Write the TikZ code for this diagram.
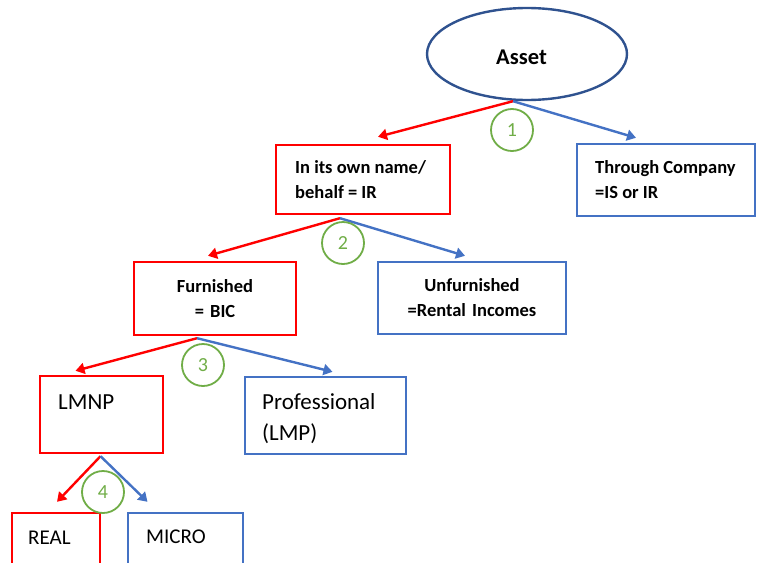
\documentclass[tikz,border=0pt]{standalone}
\usepackage{fontspec}
\setmainfont{Carlito}
\usetikzlibrary{arrows.meta,calc,shapes.geometric}
\definecolor{offblue}{RGB}{68,114,196}
\definecolor{darkblue}{RGB}{47,82,143}
\definecolor{offgreen}{RGB}{112,173,71}
\definecolor{pured}{RGB}{255,0,0}
\begin{document}
\begin{tikzpicture}[x=1pt,y=-1pt,
  box/.style={rectangle, line width=2.4pt, inner ysep=0pt, inner xsep=18pt},
  redbox/.style={box, draw=pured},
  bluebox/.style={box, draw=offblue},
  boldtxt/.style={font=\fontsize{18.5}{25}\selectfont\bfseries},
  boldleft/.style={boldtxt, inner sep=0pt, align=left},
  bigtxt/.style={font=\fontsize{23}{31}\selectfont, inner sep=0pt, align=left},
  midtxt/.style={font=\fontsize{21}{22}\selectfont, inner sep=0pt},
  conn/.style={line width=2.4pt, -{Triangle[length=9pt,width=11pt]}},
  redarrow/.style={conn, draw=pured, fill=pured},
  bluearrow/.style={conn, draw=offblue, fill=offblue},
  stepmark/.style={circle, draw=offgreen, line width=1.8pt, minimum size=42pt, inner sep=0pt, text=offgreen, font=\fontsize{20}{22}\selectfont}
]
\useasboundingbox (0,0) rectangle (759,562);
\clip (0,0) rectangle (759,562);

% top ellipse
\node[ellipse, draw=darkblue, line width=2.4pt, minimum width=200pt, minimum height=92pt, inner sep=0pt] (asset) at (527,54) {};
\node[font=\fontsize{22.5}{24}\selectfont\bfseries, inner sep=0pt, anchor=base] (assettxt) at (521.5,64) {Asset};

% boxes
\node[redbox, minimum width=174pt, minimum height=69pt] (own) at (363,179.5) {};
\node[boldleft, anchor=base west] (owntxt) at (295,198) {In its own name/\\behalf = IR};
\node[bluebox, minimum width=178pt, minimum height=72pt] (company) at (666,180) {};
\node[boldleft, anchor=base west] (companytxt) at (595,198) {Through Company\\=IS or IR};
\node[redbox, boldtxt, minimum width=162pt, minimum height=73pt, text width=126pt, align=center] (furn) at (215,298.5)
  {Furnished\\= BIC};
\node[bluebox, boldtxt, minimum width=188pt, minimum height=72pt, text width=152pt, align=center] (unfurn) at (472,298)
  {Unfurnished\\=Rental Incomes};
\node[redbox, minimum width=123pt, minimum height=77pt] (lmnp) at (101.5,414.5) {};
\node[bigtxt, anchor=base west] (lmnptxt) at (58,409.5) {LMNP};
\node[bluebox, minimum width=161pt, minimum height=77pt] (prof) at (325.5,415.5) {};
\node[bigtxt, anchor=base west] (proftxt) at (262,440.5) {Professional\\(LMP)};
\node[redbox, minimum width=88pt, minimum height=77pt] (real) at (56,551.5) {};
\node[midtxt, anchor=base west] (realtxt) at (28,544) {REAL};
\node[bluebox, minimum width=115pt, minimum height=77pt] (micro) at (185.5,551.5) {};
\node[midtxt, anchor=base west] (microtxt) at (146,543) {MICRO};

% connectors
\draw[redarrow]  ([xshift=-14pt]asset.south) -- ([xshift=15pt,yshift=7pt]own.north);
\draw[bluearrow] ([xshift=-14pt]asset.south) -- ([xshift=-30pt,yshift=5pt]company.north);
\draw[redarrow]  ([xshift=-23pt,yshift=-3pt]own.south) -- ([xshift=-7pt,yshift=5pt]furn.north);
\draw[bluearrow] ([xshift=-23pt,yshift=-3pt]own.south) -- ([xshift=-7pt,yshift=5pt]unfurn.north);
\draw[redarrow]  ([xshift=-18pt,yshift=-2pt]furn.south) -- ([xshift=-26pt,yshift=4pt]lmnp.north);
\draw[bluearrow] ([xshift=-18pt,yshift=-2pt]furn.south) -- ([xshift=7pt,yshift=4pt]prof.north);
\draw[redarrow]  ([xshift=-1pt,yshift=-2pt]lmnp.south) -- ([xshift=1pt,yshift=10pt]real.north);
\draw[bluearrow] ([xshift=-1pt,yshift=-2pt]lmnp.south) -- ([xshift=-38pt,yshift=10pt]micro.north);

% step markers
\node[stepmark] (s1) at (512,130) {1};
\node[stepmark] (s2) at (343,243) {2};
\node[stepmark] (s3) at (203,365) {3};
\node[stepmark] (s4) at (103,492) {4};
\end{tikzpicture}
\end{document}
